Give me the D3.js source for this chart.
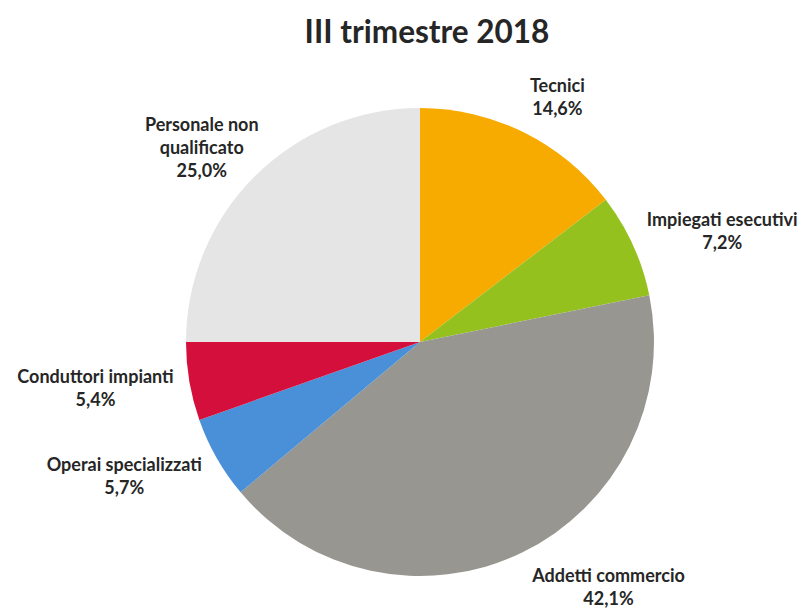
<!DOCTYPE html>
<html>
<head>
<meta charset="utf-8">
<script src="https://cdn.jsdelivr.net/npm/d3@7"></script>
<style>
  body { margin: 0; background: #ffffff; }
  svg text { font-family: Lato, "Open Sans", sans-serif; font-weight: 700; fill: #262626; }
</style>
</head>
<body>
<svg id="chart" width="806" height="608"></svg>
<script>
// data
const categories = ["Tecnici", "Impiegati esecutivi", "Addetti commercio", "Operai specializzati", "Conduttori impianti", "Personale non qualificato"];
const labelLines = [["Tecnici"], ["Impiegati esecutivi"], ["Addetti commercio"], ["Operai specializzati"], ["Conduttori impianti"], ["Personale non", "qualificato"]];
const values = [14.6, 7.2, 42.1, 5.7, 5.4, 25.0];
const colors = ["#f7ab00", "#95c11f", "#979690", "#4a90d9", "#d50f3b", "#e5e5e5"];

// small nudges so labels sit where Excel put them
const nudges = [[15, 0], [7, 3], [47, 1], [-12, 1], [-2, 2], [-2, 7]];

const svg = d3.select("#chart");
const cx = 420, cy = 342, r = 234;
const lineH = 23;

svg.append("text")
    .attr("x", 427)
    .attr("y", 43)
    .attr("text-anchor", "middle")
    .style("font-size", "31.5px")
    .text("III trimestre 2018");

const pie = d3.pie().sort(null).value(d => d);
const arcs = pie(values);
const arc = d3.arc().innerRadius(0).outerRadius(r);

const g = svg.append("g").attr("transform", `translate(${cx},${cy})`);

g.selectAll("path")
    .data(arcs)
    .enter().append("path")
    .attr("d", arc)
    .attr("fill", (d, i) => colors[i]);

const fmt = v => v.toFixed(1).replace(".", ",") + "%";
const gap = 15;

arcs.forEach((d, i) => {
    const a = (d.startAngle + d.endAngle) / 2;
    const lines = labelLines[i].concat([fmt(values[i])]);
    const t = g.append("text")
        .attr("text-anchor", "middle")
        .style("font-size", "18px");
    lines.forEach((l, k) => {
        t.append("tspan").attr("x", 0).attr("dy", k === 0 ? 0 : lineH).text(l);
    });
    const bb = t.node().getBBox();
    const w = bb.width, h = lines.length * lineH;
    const ax = (r + gap) * Math.sin(a), ay = -(r + gap) * Math.cos(a);
    const bx = ax + Math.sin(a) * w / 2 + nudges[i][0];
    const by = ay - Math.cos(a) * h / 2 + nudges[i][1];
    // first baseline so the block is centred on (bx, by)
    const y0 = by - h / 2 + lineH * 0.72;
    t.attr("transform", `translate(${bx},${y0})`);
});
</script>
</body>
</html>
